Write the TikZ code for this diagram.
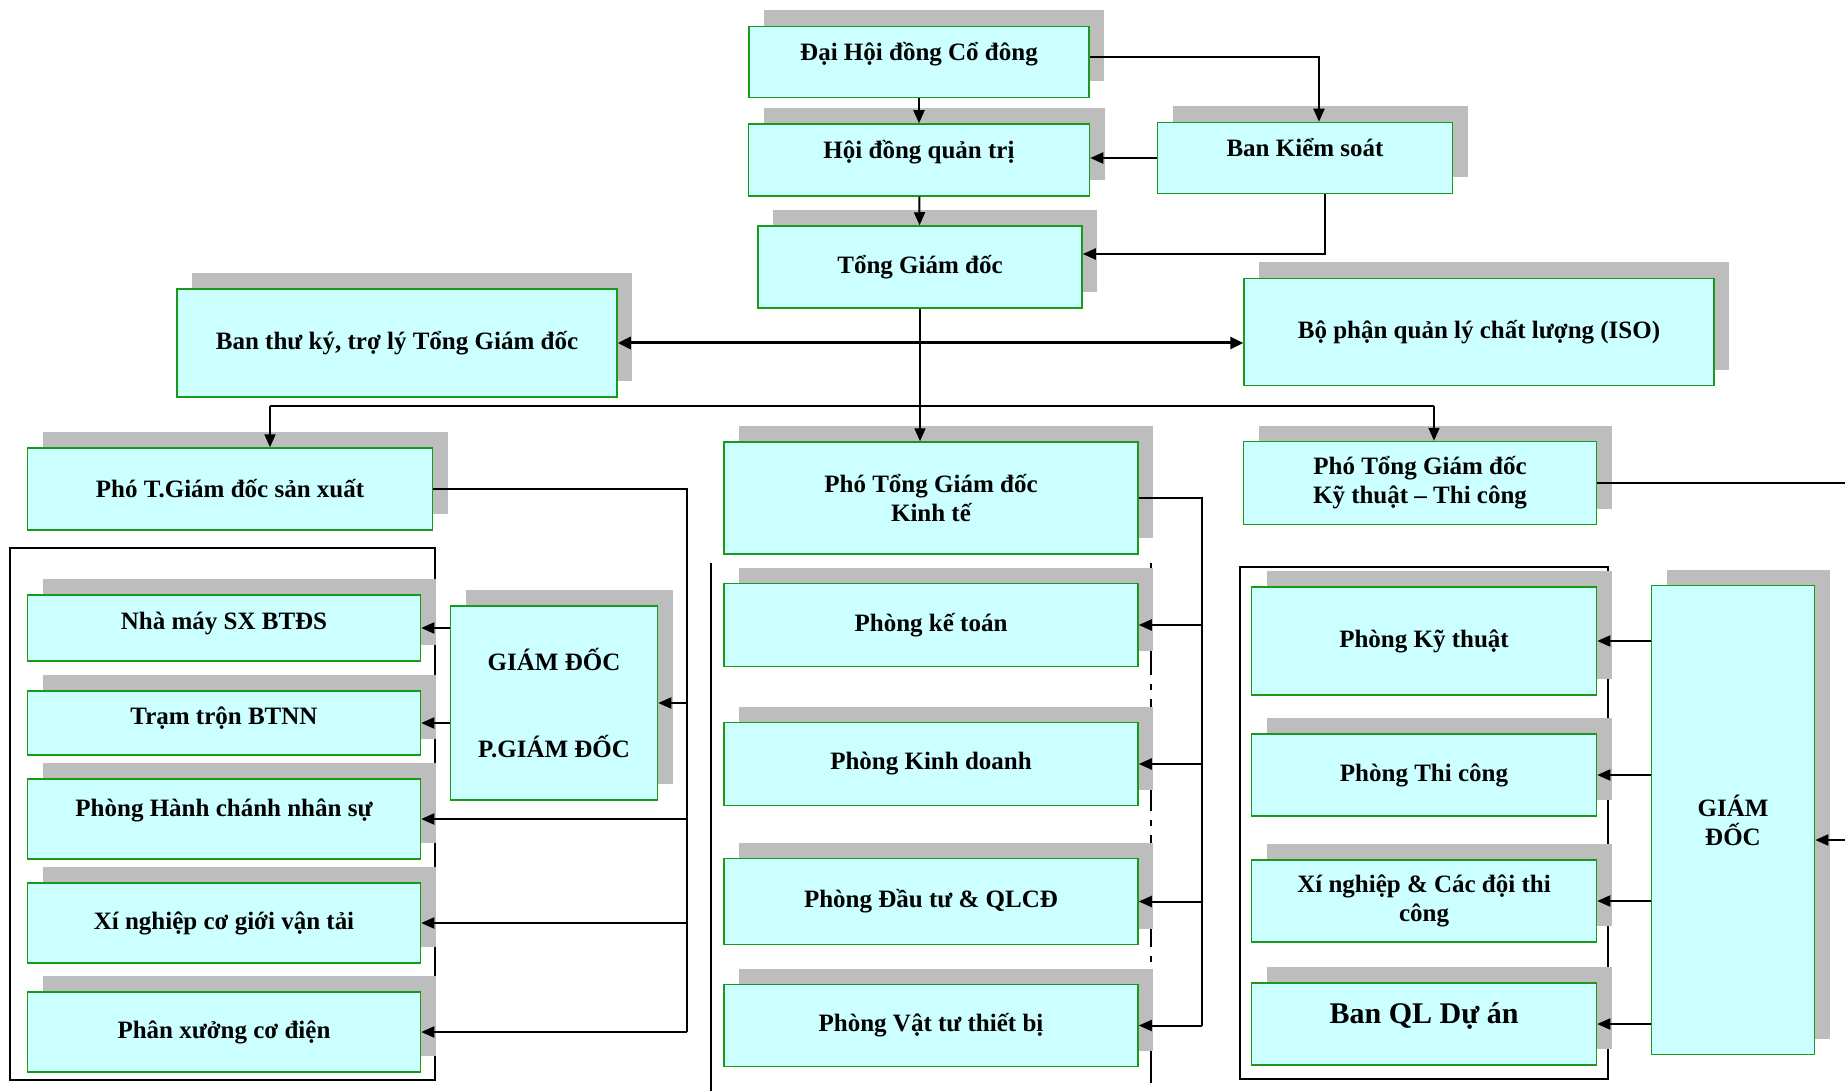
\documentclass[tikz,border=0pt]{standalone}
\usepackage{fontspec}
\setmainfont{Liberation Serif}
\usepackage{xcolor}
\usepackage{tikz}
\usetikzlibrary{arrows.meta, positioning, shadows, calc}
\definecolor{boxcyan}{HTML}{CCFFFF}
\definecolor{boxgreen}{HTML}{1A9A1A}
\definecolor{shadegray}{HTML}{BDBDBD}
\tikzstyle{unit}   = [rectangle, draw=boxgreen, line width=1.5pt, fill=boxcyan,
                      align=center, inner sep=2pt,
                      font=\fontsize{25}{29}\selectfont\bfseries,
                      general shadow={fill=shadegray, shadow xshift=15pt,
                                      shadow yshift=16pt}]
\tikzstyle{raised} = [text height=22pt, text depth=24pt]
\tikzstyle{arr}    = [-{Triangle[length=13pt,width=11pt]}, line width=2pt]
\tikzstyle{twoway} = [{Triangle[length=13pt,width=12pt]}-{Triangle[length=13pt,width=12pt]},
                      line width=3pt]
\tikzstyle{wire}   = [line width=2pt]
\tikzstyle{frame}  = [line width=2pt]

\begin{document}
\begin{tikzpicture}[x=1pt, y=-1pt]
  \useasboundingbox (0,0) rectangle (1845,1091);

  %% Group frames
  \draw[frame] (10,548) rectangle (435,1080);
  \draw[frame] (711,563) -- (711,1091);
  \draw[frame, dash pattern=on 112pt off 9pt on 6pt off 9pt] (1151,563) -- (1151,1091);
  \draw[frame] (1240,567) rectangle (1608,1079);

  %% ── Top management ───────────────────────────────────────────
  \node[unit, raised, minimum width=340pt, minimum height=71pt] (dhdcd)
      at (919,62) {Đại Hội đồng Cổ đông};
  \node[unit, raised, minimum width=341pt, minimum height=72pt] (hdqt)
      at (919,160) {Hội đồng quản trị};
  \node[unit, raised, minimum width=295pt, minimum height=71pt] (bks)
      at (1305,158) {Ban Kiểm soát};
  \node[unit, minimum width=324pt, minimum height=82pt] (tgd)
      at (920,267) {Tổng Giám đốc};
  \node[unit, minimum width=440pt, minimum height=108pt] (btk)
      at (397,343) {Ban thư ký, trợ lý Tổng Giám đốc};
  \node[unit, minimum width=470pt, minimum height=107pt] (iso)
      at (1479,332) {Bộ phận quản lý chất lượng (ISO)};

  \draw[arr] ([yshift=5pt]dhdcd.east) -| ([xshift=14pt]bks.north);
  \draw[arr] (dhdcd) -- (hdqt);
  \draw[arr] (bks.west) -- (bks.west -| hdqt.east);
  \draw[arr] (hdqt) -- (tgd);
  \draw[arr] ([xshift=20pt]bks.south) |- ([yshift=13pt]tgd.east);
  \draw[twoway] (btk.east) -- (btk.east -| iso.west);

  %% ── Deputy directors ─────────────────────────────────────────
  \node[unit, minimum width=405pt, minimum height=82pt] (pgdsx)
      at (230,489) {Phó T.Giám đốc sản xuất};
  \node[unit, minimum width=414pt, minimum height=112pt] (pgdkte)
      at (931,498) {Phó Tổng Giám đốc\\Kinh tế};
  \node[unit, minimum width=353pt, minimum height=83pt] (pgdkt)
      at (1420,483) {Phó Tổng Giám đốc\\Kỹ thuật – Thi công};

  \coordinate (busL) at (270,406);
  \coordinate (busR) at (1434,406);
  \draw[wire] (busL) -- (busR);
  \draw[arr] (tgd.south) -- (tgd.south |- pgdkte.north);
  \draw[arr] (busL) -- (busL |- pgdsx.north);
  \draw[arr] (busR) -- (busR |- pgdkt.north);

  %% ── Production branch (left) ─────────────────────────────────
  \node[unit, text height=22pt, text depth=20pt, minimum width=393pt,
        minimum height=66pt] (nmsx) at (224,628) {Nhà máy SX BTĐS};
  \node[unit, text height=22pt, text depth=20pt, minimum width=393pt,
        minimum height=64pt, below=28.5pt of nmsx] (tram) {Trạm trộn BTNN};
  \node[unit, text height=22pt, text depth=28pt, minimum width=393pt,
        minimum height=80pt, below=22.5pt of tram] (hcns) {Phòng Hành chánh nhân sự};
  \node[unit, minimum width=393pt, minimum height=80pt,
        below=22.5pt of hcns] (xncg) {Xí nghiệp cơ giới vận tải};
  \node[unit, minimum width=393pt, minimum height=80pt,
        below=27.5pt of xncg] (pxcd) {Phân xưởng cơ điện};
  \node[unit, minimum width=207pt, minimum height=194pt] (gdl)
      at (554,703) {GIÁM ĐỐC\\[58pt]P.GIÁM ĐỐC};

  \coordinate (spineL) at (687,0);
  \draw[wire] (pgdsx.east) -| (spineL |- pxcd.east);
  \draw[arr] (spineL |- gdl.east) -- (gdl.east);
  \draw[arr] (spineL |- hcns.east) -- (hcns.east);
  \draw[arr] (spineL |- xncg.east) -- (xncg.east);
  \draw[arr] (spineL |- pxcd.east) -- (pxcd.east);
  \draw[arr] (gdl.west |- nmsx.east) -- (nmsx.east);
  \draw[arr] (gdl.west |- tram.east) -- (tram.east);

  %% ── Economic branch (middle) ─────────────────────────────────
  \node[unit, minimum width=414pt, minimum height=83pt] (pkt)
      at (931,625) {Phòng kế toán};
  \node[unit, minimum width=414pt, minimum height=83pt,
        below=54.5pt of pkt] (pkd) {Phòng Kinh doanh};
  \node[unit, minimum width=414pt, minimum height=86pt,
        below=51.5pt of pkd] (pdt) {Phòng Đầu tư \& QLCĐ};
  \node[unit, minimum width=414pt, minimum height=82pt,
        below=38.5pt of pdt] (pvt) {Phòng Vật tư thiết bị};

  \coordinate (spineM) at (1202,0);
  \draw[wire] (pgdkte.east) -| (spineM |- pvt.east);
  \draw[arr] (spineM |- pkt.east) -- (pkt.east);
  \draw[arr] (spineM |- pkd.east) -- (pkd.east);
  \draw[arr] (spineM |- pdt.east) -- (pdt.east);
  \draw[arr] (spineM |- pvt.east) -- (pvt.east);

  %% ── Technical branch (right) ─────────────────────────────────
  \node[unit, minimum width=345pt, minimum height=108pt] (pkth)
      at (1424,641) {Phòng Kỹ thuật};
  \node[unit, minimum width=345pt, minimum height=82pt,
        below=37.5pt of pkth] (ptc) {Phòng Thi công};
  \node[unit, minimum width=345pt, minimum height=82pt,
        below=42.5pt of ptc] (xndt) {Xí nghiệp \& Các đội thi\\công};
  \node[unit, font=\fontsize{30}{34}\selectfont\bfseries, text height=27pt,
        text depth=29pt, minimum width=345pt, minimum height=82pt,
        below=39.5pt of xndt] (bql) {Ban QL Dự án};
  \node[unit, minimum width=163pt, minimum height=469pt] (gdr)
      at (1733,820) {GIÁM\\ĐỐC};

  \coordinate (edgeR) at (1870,0);
  \draw[arr] (pgdkt.east) -| (edgeR) |- ([yshift=-20pt]gdr.east);
  \draw[arr] (gdr.west |- pkth.east) -- (pkth.east);
  \draw[arr] (gdr.west |- ptc.east) -- (ptc.east);
  \draw[arr] (gdr.west |- xndt.east) -- (xndt.east);
  \draw[arr] (gdr.west |- bql.east) -- (bql.east);

\end{tikzpicture}
\end{document}
